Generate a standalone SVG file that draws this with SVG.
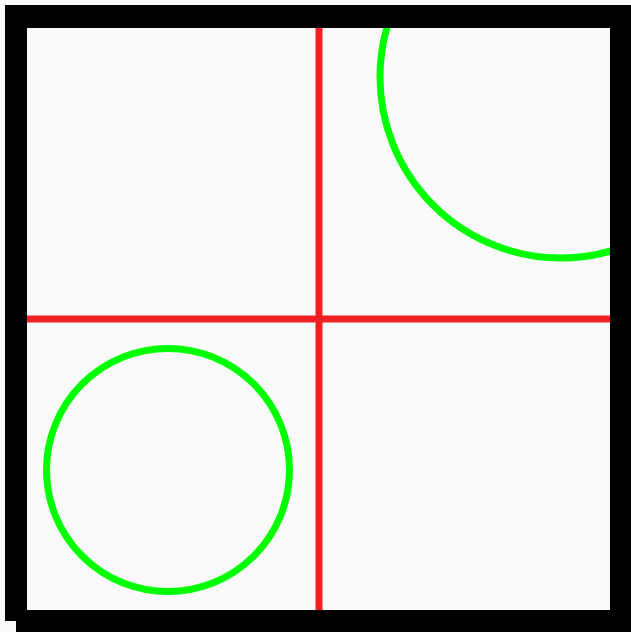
<svg xmlns="http://www.w3.org/2000/svg" width="631" height="632" viewBox="0 0 631 632">
  <style>
    .ring { fill: none; stroke: #00ff00; stroke-width: 7; }
    .axis { stroke: #ee2222; stroke-width: 7; }
  </style>
  <defs>
    <clipPath id="inside">
      <rect x="27" y="28" width="583" height="582"/>
    </clipPath>
  </defs>
  <rect id="background" x="0" y="0" width="631" height="632" fill="#fafafa"/>
  <g id="interior">
    <rect x="27" y="28" width="583" height="582" fill="#fafafa"/>
  </g>
  <g id="circles" clip-path="url(#inside)">
    <circle id="circle-lower-left" class="ring" cx="168" cy="470" r="121.5"/>
    <circle id="circle-upper-right" class="ring" cx="561" cy="77" r="181"/>
  </g>
  <g id="cross">
    <line class="axis" x1="319" y1="28" x2="319" y2="610"/>
    <line class="axis" x1="27" y1="319" x2="610" y2="319"/>
  </g>
  <g id="frame" fill="#000000" fill-rule="evenodd">
    <path d="M5 5 H631 V621 H5 Z M27 28 V610 H610 V28 Z"/>
    <path d="M16 16 H632 V632 H16 Z M27 28 V610 H610 V28 Z"/>
  </g>
</svg>
